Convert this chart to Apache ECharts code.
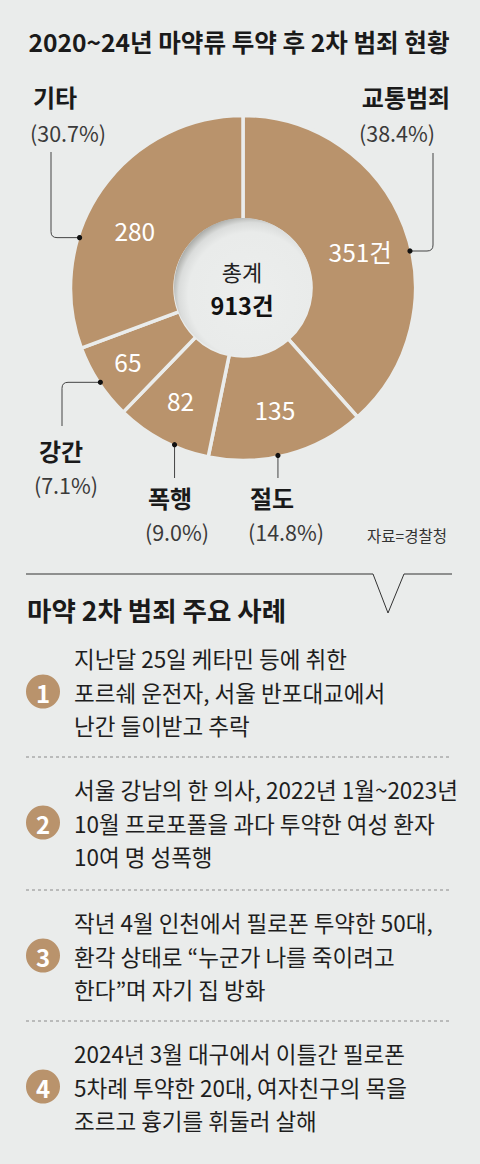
<!DOCTYPE html>
<html>
<head>
<meta charset="utf-8">
<script src="https://cdn.jsdelivr.net/npm/echarts@6/dist/echarts.min.js"></script>
<style>
html,body{margin:0;padding:0;background:#eaeceb;}
#chart{width:480px;height:1164px;}
</style>
</head>
<body>
<div id="chart"></div>
<script>
// ---- data ----
const titleText = '2020~24년 마약류 투약 후 2차 범죄 현황';
const categories = ['교통범죄', '절도', '폭행', '강간', '기타'];
const counts = [351, 135, 82, 65, 280];
const pctLabels = ['38.4%', '14.8%', '9.0%', '7.1%', '30.7%'];
const centerTitle = '총계';
const centerTotal = '913건';
const sourceText = '자료=경찰청';
const casesTitle = '마약 2차 범죄 주요 사례';
const case1 = ['지난달 25일 케타민 등에 취한', '포르쉐 운전자, 서울 반포대교에서', '난간 들이받고 추락'];
const case2 = ['서울 강남의 한 의사, 2022년 1월~2023년', '10월 프로포폴을 과다 투약한 여성 환자', '10여 명 성폭행'];
const case3 = ['작년 4월 인천에서 필로폰 투약한 50대,', '환각 상태로 “누군가 나를 죽이려고', '한다”며 자기 집 방화'];
const case4 = ['2024년 3월 대구에서 이틀간 필로폰', '5차례 투약한 20대, 여자친구의 목을', '조르고 흉기를 휘둘러 살해'];
const cases = [case1, case2, case3, case4];

// ---- style ----
const BG = '#eaeceb';
const TAN = '#b9936c';
const FONT = '"Noto Sans CJK KR", "Noto Sans", sans-serif';
const CX = 243, CY = 288, R_OUT = 172.5, R_IN = 68;
const innerOffsets = [[2, 7], [0, 2], [-5, 3], [-12, 6], [-7, 13]];
const dotFrac = [0.56, 0.56, 0.37, 0.49, 0.34];

const chart = echarts.init(document.getElementById('chart'), null, {renderer: 'svg', width: 480, height: 1164});

// geometry of the slices (clockwise from 12 o'clock), used for leader dots
const total = counts.reduce((a, b) => a + b, 0);
let acc = 0;
const dots = counts.map((v, i) => {
  const a0 = acc / total * 360;
  acc += v;
  const a1 = acc / total * 360;
  const a = (a0 + (a1 - a0) * dotFrac[i]) * Math.PI / 180;
  const r = R_OUT - 1.5;
  return [CX + r * Math.sin(a), CY - r * Math.cos(a)];
});

function txt(text, x, y, size, weight, color, align) {
  return {
    type: 'text', z: 10,
    style: {
      text: text, x: x, y: y,
      font: (weight || 'normal') + ' ' + size + 'px ' + FONT,
      fill: color || '#222',
      textAlign: align || 'center', align: align || 'center',
      textVerticalAlign: 'middle', verticalAlign: 'middle'
    }
  };
}
function line(x1, y1, x2, y2, color, dash) {
  return {type: 'line', z: 5, shape: {x1, y1, x2, y2},
    style: {stroke: color || '#444', lineWidth: 1, lineDash: dash || null}};
}
function corner(x1, y1, cx, cy, x2, y2) {
  return {type: 'bezierCurve', z: 5, shape: {x1, y1, x2, y2, cpx1: cx, cpy1: cy},
    style: {stroke: '#444', lineWidth: 1, fill: null}};
}
function dot(p) {
  return {type: 'circle', z: 6, shape: {cx: p[0], cy: p[1], r: 2.6}, style: {fill: '#111'}};
}

const g = [];
// title
g.push(txt(titleText, 239, 41, 24.6, 'bold', '#1a1a1a'));

// inner disk
g.push({
  type: 'circle', z: 3, shape: {cx: CX, cy: CY - 1, r: 69},
  style: {
    fill: {type: 'radial', x: 0.56, y: 0.56, r: 0.585, colorStops: [
      {offset: 0, color: '#eceeed'}, {offset: 0.78, color: '#e9ebea'},
      {offset: 0.9, color: '#dadcdb'}, {offset: 1, color: '#a8a9a5'}]}
  }
});
g.push(txt(centerTitle, 242, 271, 22, 'normal', '#222'));
g.push(txt(centerTotal, 242, 305, 23.5, 'bold', '#111'));

// leaders + outer labels
const LBL = 24, PCT = 21.5, PCOL = '#3a3a3a';
// 교통범죄 (index 0)
let p = dots[0];
g.push(dot(p), line(p[0], p[1], 427, p[1]), corner(427, p[1], 433, p[1], 433, p[1] - 6), line(433, p[1] - 6, 433, 153));
g.push(txt(categories[0], 406, 96, LBL, 'bold', '#1a1a1a'), txt('(' + pctLabels[0] + ')', 397, 132, PCT, 'normal', PCOL));
// 기타 (index 4)
p = dots[4];
g.push(dot(p), line(p[0], p[1], 57, p[1]), corner(57, p[1], 51, p[1], 51, p[1] - 6), line(51, p[1] - 6, 51, 152));
g.push(txt(categories[4], 55, 96, LBL, 'bold', '#1a1a1a'), txt('(' + pctLabels[4] + ')', 68, 132, PCT, 'normal', PCOL));
// 강간 (index 3)
p = dots[3];
g.push(dot(p), line(p[0], p[1], 68, p[1]), corner(68, p[1], 62, p[1], 62, p[1] + 6), line(62, p[1] + 6, 62, 426));
g.push(txt(categories[3], 61, 450, LBL, 'bold', '#1a1a1a'), txt('(' + pctLabels[3] + ')', 66, 484, PCT, 'normal', PCOL));
// 폭행 (index 2)
p = dots[2];
g.push(dot(p), line(p[0], p[1], p[0], 478));
g.push(txt(categories[2], 170, 497, LBL, 'bold', '#1a1a1a'), txt('(' + pctLabels[2] + ')', 177, 531, PCT, 'normal', PCOL));
// 절도 (index 1)
p = dots[1];
g.push(dot(p), line(p[0], p[1], p[0], 478));
g.push(txt(categories[1], 272, 497, LBL, 'bold', '#1a1a1a'), txt('(' + pctLabels[1] + ')', 286, 531, PCT, 'normal', PCOL));
// source
g.push(txt(sourceText, 407, 535, 15.5, 'normal', '#333'));

// cases section separator with notch
g.push({type: 'polyline', z: 5, shape: {points: [[26, 574], [373, 574], [388, 613], [404, 574], [452, 574]]},
  style: {stroke: '#333', lineWidth: 1, fill: null}});
g.push(txt(casesTitle, 27, 609, 26.5, 'bold', '#1a1a1a', 'left'));

const firstLineY = [658, 789, 922, 1053];
const LH = 33.5;
cases.forEach((lines, k) => {
  const y0 = firstLineY[k];
  if (k > 0) g.push(line(26, y0 - 32, 450, y0 - 32, '#8a8a8a', [3, 3]));
  g.push({type: 'circle', z: 5, shape: {cx: 43, cy: y0 + LH, r: 17}, style: {fill: TAN}});
  g.push(txt(String(k + 1), 43, y0 + LH + 1, 24, 'bold', '#fff'));
  lines.forEach((s, j) => g.push(txt(s, 74, y0 + j * LH, 22.5, 'normal', '#1e1e1e', 'left')));
});

chart.setOption({
  backgroundColor: BG,
  animation: false,
  graphic: {elements: g},
  series: [{
    type: 'pie',
    center: [CX, CY],
    radius: [R_IN, R_OUT],
    startAngle: 90,
    clockwise: true,
    silent: true,
    itemStyle: {color: TAN, borderColor: BG, borderWidth: 3.5},
    label: {
      show: true, position: 'inside', color: '#fff',
      fontFamily: FONT, fontSize: 24.5,
      formatter: (prm) => prm.dataIndex === 0 ? prm.value + '건' : String(prm.value)
    },
    labelLine: {show: false},
    data: categories.map((c, i) => ({name: c, value: counts[i], label: {offset: innerOffsets[i]}}))
  }]
});
</script>
</body>
</html>
